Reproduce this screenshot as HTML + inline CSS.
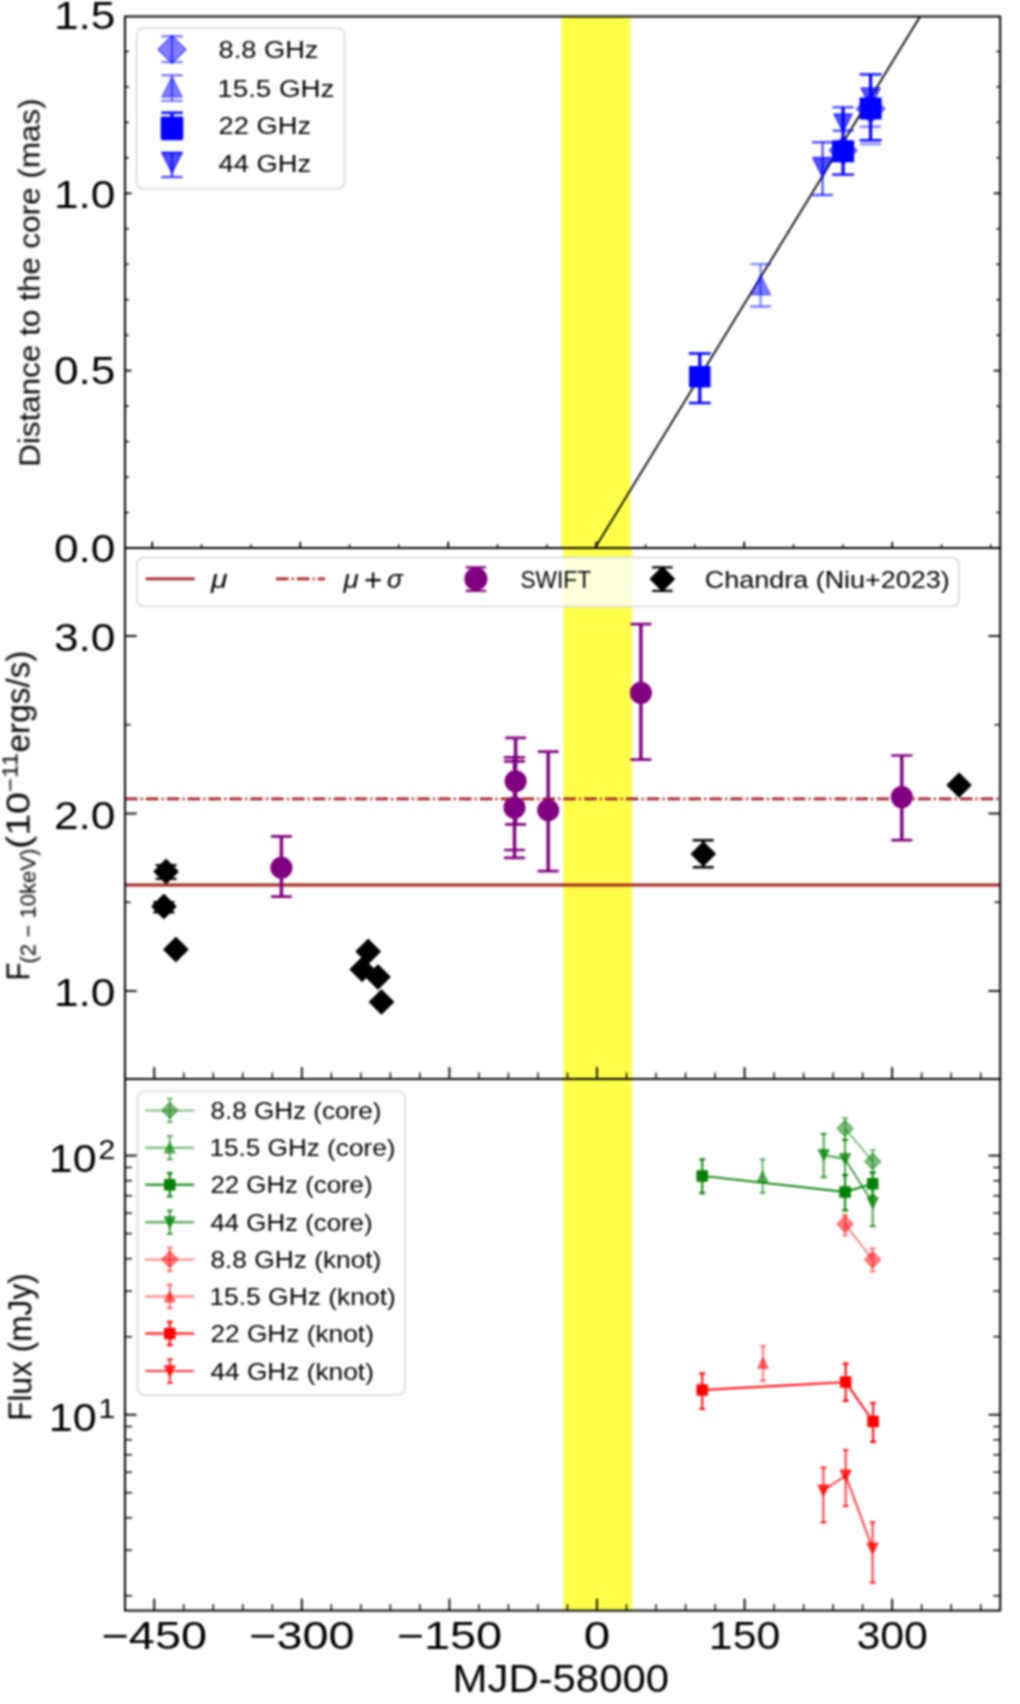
<!DOCTYPE html><html><head><meta charset="utf-8"><style>html,body{margin:0;padding:0;background:#fff;}svg{display:block;}</style></head><body>
<svg width="1020" height="1704" viewBox="0 0 1020 1704">
<defs><filter id="bl" x="0" y="0" width="1020" height="1704" filterUnits="userSpaceOnUse" color-interpolation-filters="sRGB"><feGaussianBlur stdDeviation="1.0"/></filter></defs>
<rect x="0" y="0" width="1020" height="1704" fill="#ffffff"/>
<g filter="url(#bl)">
<rect x="561.2" y="16.5" width="69.2" height="531.5" fill="#ffff4a" />
<line x1="595" y1="548" x2="920.1" y2="16.5" stroke="#000000" stroke-width="1.8" />
<line x1="760.6" y1="264.1" x2="760.6" y2="306.5" stroke="#0000ff" stroke-width="2.2" stroke-opacity="0.5"/>
<line x1="751.1" y1="264.1" x2="770.1" y2="264.1" stroke="#0000ff" stroke-width="2.4" stroke-linecap="round" stroke-opacity="0.5"/>
<line x1="751.1" y1="306.5" x2="770.1" y2="306.5" stroke="#0000ff" stroke-width="2.4" stroke-linecap="round" stroke-opacity="0.5"/>
<polygon points="760.6,275.25 770.35,294.75 750.85,294.75" fill="#0000ff" stroke="#0000ff" stroke-width="1.6" stroke-linejoin="round" fill-opacity="0.5" stroke-opacity="0.5"/>
<line x1="699.8" y1="353.5" x2="699.8" y2="403" stroke="#0000ff" stroke-width="3.2"/>
<line x1="689.8" y1="353.5" x2="709.8" y2="353.5" stroke="#0000ff" stroke-width="2.4" stroke-linecap="round"/>
<line x1="689.8" y1="403" x2="709.8" y2="403" stroke="#0000ff" stroke-width="2.4" stroke-linecap="round"/>
<rect x="689.8" y="366.8" width="20" height="20" fill="#0000ff" stroke="#0000ff" stroke-width="1.6" stroke-linejoin="round"/>
<line x1="822.6" y1="142.2" x2="822.6" y2="195" stroke="#0000ff" stroke-width="2.4" stroke-opacity="0.68"/>
<line x1="813.1" y1="142.2" x2="832.1" y2="142.2" stroke="#0000ff" stroke-width="2.4" stroke-linecap="round" stroke-opacity="0.68"/>
<line x1="813.1" y1="195" x2="832.1" y2="195" stroke="#0000ff" stroke-width="2.4" stroke-linecap="round" stroke-opacity="0.68"/>
<polygon points="812.85,157.55 832.35,157.55 822.6,177.05" fill="#0000ff" stroke="#0000ff" stroke-width="1.6" stroke-linejoin="round" fill-opacity="0.68" stroke-opacity="0.68"/>
<polygon points="843.1,136.5 857.1,150.5 843.1,164.5 829.1,150.5" fill="#0000ff" stroke="#0000ff" stroke-width="1.6" stroke-linejoin="round" fill-opacity="0.5" stroke-opacity="0.5"/>
<line x1="843.1" y1="107.3" x2="843.1" y2="130.8" stroke="#0000ff" stroke-width="2.4" stroke-opacity="0.68"/>
<line x1="833.6" y1="107.3" x2="852.6" y2="107.3" stroke="#0000ff" stroke-width="2.4" stroke-linecap="round" stroke-opacity="0.68"/>
<line x1="833.6" y1="130.8" x2="852.6" y2="130.8" stroke="#0000ff" stroke-width="2.4" stroke-linecap="round" stroke-opacity="0.68"/>
<polygon points="834.1,114 852.1,114 843.1,132" fill="#0000ff" stroke="#0000ff" stroke-width="1.6" stroke-linejoin="round" fill-opacity="0.68" stroke-opacity="0.68"/>
<line x1="843.1" y1="107.3" x2="843.1" y2="174.6" stroke="#0000ff" stroke-width="3.2"/>
<line x1="833.1" y1="174.6" x2="853.1" y2="174.6" stroke="#0000ff" stroke-width="2.4" stroke-linecap="round"/>
<rect x="832.85" y="140.95" width="20.5" height="20.5" fill="#0000ff" stroke="#0000ff" stroke-width="1.6" stroke-linejoin="round"/>
<polygon points="870.6,94.55 884.85,108.8 870.6,123.05 856.35,108.8" fill="#0000ff" stroke="#0000ff" stroke-width="1.6" stroke-linejoin="round" fill-opacity="0.5" stroke-opacity="0.5"/>
<line x1="861.1" y1="126.8" x2="880.1" y2="126.8" stroke="#0000ff" stroke-width="2.4" stroke-linecap="round" stroke-opacity="0.5"/>
<line x1="861.1" y1="144.1" x2="880.1" y2="144.1" stroke="#0000ff" stroke-width="2.4" stroke-linecap="round" stroke-opacity="0.5"/>
<polygon points="861.1,88 880.1,88 870.6,107" fill="#0000ff" stroke="#0000ff" stroke-width="1.6" stroke-linejoin="round" fill-opacity="0.68" stroke-opacity="0.68"/>
<line x1="870.6" y1="74.4" x2="870.6" y2="140.3" stroke="#0000ff" stroke-width="3.2"/>
<line x1="860.6" y1="74.4" x2="880.6" y2="74.4" stroke="#0000ff" stroke-width="2.4" stroke-linecap="round"/>
<line x1="860.6" y1="140.3" x2="880.6" y2="140.3" stroke="#0000ff" stroke-width="2.4" stroke-linecap="round"/>
<rect x="860.35" y="98.25" width="20.5" height="20.5" fill="#0000ff" stroke="#0000ff" stroke-width="1.6" stroke-linejoin="round"/>
<rect x="136.5" y="28.2" width="208.1" height="160.5" rx="7" ry="7" fill="#ffffff" fill-opacity="0.8" stroke="#d8d8d8" stroke-width="1.7"/>
<line x1="172" y1="36.2" x2="172" y2="62.1" stroke="#0000ff" stroke-width="2.2" stroke-opacity="0.5"/>
<line x1="162.25" y1="36.2" x2="181.75" y2="36.2" stroke="#0000ff" stroke-width="2.4" stroke-linecap="round" stroke-opacity="0.5"/>
<line x1="162.25" y1="62.1" x2="181.75" y2="62.1" stroke="#0000ff" stroke-width="2.4" stroke-linecap="round" stroke-opacity="0.5"/>
<polygon points="172,35.5 186,49.5 172,63.5 158,49.5" fill="#0000ff" stroke="#0000ff" stroke-width="1.6" stroke-linejoin="round" fill-opacity="0.5" stroke-opacity="0.5"/>
<line x1="172" y1="75.3" x2="172" y2="100.9" stroke="#0000ff" stroke-width="2.2" stroke-opacity="0.5"/>
<line x1="162.25" y1="75.3" x2="181.75" y2="75.3" stroke="#0000ff" stroke-width="2.4" stroke-linecap="round" stroke-opacity="0.5"/>
<line x1="162.25" y1="100.9" x2="181.75" y2="100.9" stroke="#0000ff" stroke-width="2.4" stroke-linecap="round" stroke-opacity="0.5"/>
<polygon points="172,77 182,97 162,97" fill="#0000ff" stroke="#0000ff" stroke-width="1.6" stroke-linejoin="round" fill-opacity="0.5" stroke-opacity="0.5"/>
<line x1="172" y1="112.7" x2="172" y2="139" stroke="#0000ff" stroke-width="3"/>
<line x1="162.25" y1="112.7" x2="181.75" y2="112.7" stroke="#0000ff" stroke-width="2.4" stroke-linecap="round"/>
<line x1="162.25" y1="139" x2="181.75" y2="139" stroke="#0000ff" stroke-width="2.4" stroke-linecap="round"/>
<rect x="161.5" y="117.3" width="21" height="21" fill="#0000ff" stroke="#0000ff" stroke-width="1.6" stroke-linejoin="round"/>
<line x1="172" y1="152.8" x2="172" y2="177" stroke="#0000ff" stroke-width="2.4" stroke-opacity="0.68"/>
<line x1="162.25" y1="152.8" x2="181.75" y2="152.8" stroke="#0000ff" stroke-width="2.4" stroke-linecap="round" stroke-opacity="0.68"/>
<line x1="162.25" y1="177" x2="181.75" y2="177" stroke="#0000ff" stroke-width="2.4" stroke-linecap="round" stroke-opacity="0.68"/>
<polygon points="162,153 182,153 172,173" fill="#0000ff" stroke="#0000ff" stroke-width="1.6" stroke-linejoin="round" fill-opacity="0.68" stroke-opacity="0.68"/>
<text x="218.5" y="57.7" font-size="24.5" text-anchor="start" fill="#000" font-family='"Liberation Sans", sans-serif' textLength="100" lengthAdjust="spacingAndGlyphs" >8.8 GHz</text>
<text x="217.3" y="96.6" font-size="24.5" text-anchor="start" fill="#000" font-family='"Liberation Sans", sans-serif' textLength="117.2" lengthAdjust="spacingAndGlyphs" >15.5 GHz</text>
<text x="218.5" y="134.3" font-size="24.5" text-anchor="start" fill="#000" font-family='"Liberation Sans", sans-serif' textLength="92.6" lengthAdjust="spacingAndGlyphs" >22 GHz</text>
<text x="218.5" y="172" font-size="24.5" text-anchor="start" fill="#000" font-family='"Liberation Sans", sans-serif' textLength="92.6" lengthAdjust="spacingAndGlyphs" >44 GHz</text>
<rect x="563.5" y="548" width="68.6" height="531" fill="#ffff4a" />
<line x1="125" y1="885" x2="1000.2" y2="885" stroke="#a31f1f" stroke-width="2.8" />
<line x1="125" y1="798.8" x2="1000.2" y2="798.8" stroke="#a31f1f" stroke-width="2.8" stroke-dasharray="12.6 3.15 1.97 3.15"/>
<line x1="281.4" y1="836.3" x2="281.4" y2="896.6" stroke="#800080" stroke-width="3.5"/>
<line x1="272" y1="836.3" x2="290.8" y2="836.3" stroke="#800080" stroke-width="2.7" stroke-linecap="round"/>
<line x1="272" y1="896.6" x2="290.8" y2="896.6" stroke="#800080" stroke-width="2.7" stroke-linecap="round"/>
<circle cx="281.4" cy="867.7" r="10.25" fill="#800080" stroke="#800080" stroke-width="1.6" stroke-linejoin="round"/>
<line x1="548.2" y1="751.7" x2="548.2" y2="871.2" stroke="#800080" stroke-width="3.5"/>
<line x1="538.8" y1="751.7" x2="557.6" y2="751.7" stroke="#800080" stroke-width="2.7" stroke-linecap="round"/>
<line x1="538.8" y1="871.2" x2="557.6" y2="871.2" stroke="#800080" stroke-width="2.7" stroke-linecap="round"/>
<circle cx="548.2" cy="810.3" r="10.25" fill="#800080" stroke="#800080" stroke-width="1.6" stroke-linejoin="round"/>
<line x1="514.5" y1="757.3" x2="514.5" y2="857.9" stroke="#800080" stroke-width="3.5"/>
<line x1="505.1" y1="757.3" x2="523.9" y2="757.3" stroke="#800080" stroke-width="2.7" stroke-linecap="round"/>
<line x1="505.1" y1="857.9" x2="523.9" y2="857.9" stroke="#800080" stroke-width="2.7" stroke-linecap="round"/>
<circle cx="514.5" cy="807.6" r="10.25" fill="#800080" stroke="#800080" stroke-width="1.6" stroke-linejoin="round"/>
<line x1="505.1" y1="761.4" x2="523.9" y2="761.4" stroke="#800080" stroke-width="2.7" stroke-linecap="round"/>
<line x1="505.1" y1="850" x2="523.9" y2="850" stroke="#800080" stroke-width="2.7" stroke-linecap="round"/>
<line x1="515.6" y1="737.9" x2="515.6" y2="824.4" stroke="#800080" stroke-width="3.5"/>
<line x1="506.2" y1="737.9" x2="525" y2="737.9" stroke="#800080" stroke-width="2.7" stroke-linecap="round"/>
<line x1="506.2" y1="824.4" x2="525" y2="824.4" stroke="#800080" stroke-width="2.7" stroke-linecap="round"/>
<circle cx="515.6" cy="781.2" r="10.25" fill="#800080" stroke="#800080" stroke-width="1.6" stroke-linejoin="round"/>
<line x1="640.9" y1="624.1" x2="640.9" y2="759.6" stroke="#800080" stroke-width="3.5"/>
<line x1="631.5" y1="624.1" x2="650.3" y2="624.1" stroke="#800080" stroke-width="2.7" stroke-linecap="round"/>
<line x1="631.5" y1="759.6" x2="650.3" y2="759.6" stroke="#800080" stroke-width="2.7" stroke-linecap="round"/>
<circle cx="640.9" cy="692.9" r="10.25" fill="#800080" stroke="#800080" stroke-width="1.6" stroke-linejoin="round"/>
<line x1="901.8" y1="755.5" x2="901.8" y2="840.2" stroke="#800080" stroke-width="3.5"/>
<line x1="892.4" y1="755.5" x2="911.2" y2="755.5" stroke="#800080" stroke-width="2.7" stroke-linecap="round"/>
<line x1="892.4" y1="840.2" x2="911.2" y2="840.2" stroke="#800080" stroke-width="2.7" stroke-linecap="round"/>
<circle cx="901.8" cy="797.1" r="10.25" fill="#800080" stroke="#800080" stroke-width="1.6" stroke-linejoin="round"/>
<line x1="166.1" y1="865.1" x2="166.1" y2="878.9" stroke="#000000" stroke-width="2.5"/>
<line x1="156.6" y1="865.1" x2="175.6" y2="865.1" stroke="#000000" stroke-width="2.4" stroke-linecap="round"/>
<line x1="156.6" y1="878.9" x2="175.6" y2="878.9" stroke="#000000" stroke-width="2.4" stroke-linecap="round"/>
<polygon points="166.1,859.5 178.1,871.5 166.1,883.5 154.1,871.5" fill="#000000" stroke="#000000" stroke-width="1.2" stroke-linejoin="round"/>
<line x1="163.9" y1="902.1" x2="163.9" y2="912.3" stroke="#000000" stroke-width="2.5"/>
<line x1="154.4" y1="902.1" x2="173.4" y2="902.1" stroke="#000000" stroke-width="2.4" stroke-linecap="round"/>
<line x1="154.4" y1="912.3" x2="173.4" y2="912.3" stroke="#000000" stroke-width="2.4" stroke-linecap="round"/>
<polygon points="163.9,894.5 175.9,906.5 163.9,918.5 151.9,906.5" fill="#000000" stroke="#000000" stroke-width="1.2" stroke-linejoin="round"/>
<polygon points="175.9,937.5 187.9,949.5 175.9,961.5 163.9,949.5" fill="#000000" stroke="#000000" stroke-width="1.2" stroke-linejoin="round"/>
<polygon points="368.2,939.5 380.2,951.5 368.2,963.5 356.2,951.5" fill="#000000" stroke="#000000" stroke-width="1.2" stroke-linejoin="round"/>
<polygon points="362.1,957.4 374.1,969.4 362.1,981.4 350.1,969.4" fill="#000000" stroke="#000000" stroke-width="1.2" stroke-linejoin="round"/>
<polygon points="378,965 390,977 378,989 366,977" fill="#000000" stroke="#000000" stroke-width="1.2" stroke-linejoin="round"/>
<polygon points="381.5,990 393.5,1002 381.5,1014 369.5,1002" fill="#000000" stroke="#000000" stroke-width="1.2" stroke-linejoin="round"/>
<line x1="703.3" y1="840.3" x2="703.3" y2="867.2" stroke="#000000" stroke-width="2.5"/>
<line x1="693.8" y1="840.3" x2="712.8" y2="840.3" stroke="#000000" stroke-width="2.4" stroke-linecap="round"/>
<line x1="693.8" y1="867.2" x2="712.8" y2="867.2" stroke="#000000" stroke-width="2.4" stroke-linecap="round"/>
<polygon points="703.3,841.9 715.3,853.9 703.3,865.9 691.3,853.9" fill="#000000" stroke="#000000" stroke-width="1.2" stroke-linejoin="round"/>
<polygon points="959.1,773.1 971.1,785.1 959.1,797.1 947.1,785.1" fill="#000000" stroke="#000000" stroke-width="1.2" stroke-linejoin="round"/>
<rect x="136.9" y="557.6" width="822" height="48.9" rx="7" ry="7" fill="#ffffff" fill-opacity="0.8" stroke="#d8d8d8" stroke-width="1.7"/>
<line x1="145.7" y1="578.9" x2="194.7" y2="578.9" stroke="#a31f1f" stroke-width="2.8" />
<line x1="276" y1="578.9" x2="325" y2="578.9" stroke="#a31f1f" stroke-width="2.8" stroke-dasharray="12.6 3.15 1.97 3.15"/>
<text x="211" y="588" font-size="26" text-anchor="start" fill="#000" font-family='"Liberation Sans", sans-serif' textLength="16.5" lengthAdjust="spacingAndGlyphs" font-style="italic">μ</text>
<text x="343.6" y="588" font-size="26" text-anchor="start" fill="#000" font-family='"Liberation Sans", sans-serif' textLength="15.2" lengthAdjust="spacingAndGlyphs" font-style="italic">μ</text>
<text x="364" y="590.5" font-size="32" text-anchor="start" fill="#000" font-family='"Liberation Sans", sans-serif' textLength="18.2" lengthAdjust="spacingAndGlyphs" >+</text>
<text x="387" y="588" font-size="26" text-anchor="start" fill="#000" font-family='"Liberation Sans", sans-serif' font-style="italic">σ</text>
<line x1="475.9" y1="567.4" x2="475.9" y2="590.9" stroke="#800080" stroke-width="3.2"/>
<line x1="466.65" y1="567.4" x2="485.15" y2="567.4" stroke="#800080" stroke-width="2.4" stroke-linecap="round"/>
<line x1="466.65" y1="590.9" x2="485.15" y2="590.9" stroke="#800080" stroke-width="2.4" stroke-linecap="round"/>
<circle cx="475.9" cy="578.9" r="10.75" fill="#800080" stroke="#800080" stroke-width="1.6" stroke-linejoin="round"/>
<text x="520.5" y="588" font-size="24.5" text-anchor="start" fill="#000" font-family='"Liberation Sans", sans-serif' textLength="70.5" lengthAdjust="spacingAndGlyphs" >SWIFT</text>
<line x1="662.4" y1="567.4" x2="662.4" y2="590.9" stroke="#000000" stroke-width="2.5"/>
<line x1="653.15" y1="567.4" x2="671.65" y2="567.4" stroke="#000000" stroke-width="2.4" stroke-linecap="round"/>
<line x1="653.15" y1="590.9" x2="671.65" y2="590.9" stroke="#000000" stroke-width="2.4" stroke-linecap="round"/>
<polygon points="662.4,567 674.4,579 662.4,591 650.4,579" fill="#000000" stroke="#000000" stroke-width="1.2" stroke-linejoin="round"/>
<text x="704.8" y="588" font-size="24.5" text-anchor="start" fill="#000" font-family='"Liberation Sans", sans-serif' textLength="245" lengthAdjust="spacingAndGlyphs" >Chandra (Niu+2023)</text>
<rect x="563.5" y="1079" width="68.6" height="531.6" fill="#ffff4a" />
<polyline points="845.1,1128.4 872.7,1161.4" fill="none" stroke="#008000" stroke-width="1.9" stroke-linejoin="round" stroke-opacity="0.5"/>
<line x1="845.1" y1="1118.2" x2="845.1" y2="1139.8" stroke="#008000" stroke-width="2" stroke-opacity="0.5"/>
<line x1="843" y1="1118.2" x2="847.2" y2="1118.2" stroke="#008000" stroke-width="2.2" stroke-linecap="round" stroke-opacity="0.5"/>
<line x1="843" y1="1139.8" x2="847.2" y2="1139.8" stroke="#008000" stroke-width="2.2" stroke-linecap="round" stroke-opacity="0.5"/>
<polygon points="845.1,1120.3 853.2,1128.4 845.1,1136.5 837,1128.4" fill="#008000" stroke="#008000" stroke-width="1.3" stroke-linejoin="round" fill-opacity="0.5" stroke-opacity="0.5"/>
<line x1="872.7" y1="1150" x2="872.7" y2="1172.7" stroke="#008000" stroke-width="2" stroke-opacity="0.5"/>
<line x1="870.6" y1="1150" x2="874.8" y2="1150" stroke="#008000" stroke-width="2.2" stroke-linecap="round" stroke-opacity="0.5"/>
<line x1="870.6" y1="1172.7" x2="874.8" y2="1172.7" stroke="#008000" stroke-width="2.2" stroke-linecap="round" stroke-opacity="0.5"/>
<polygon points="872.7,1153.3 880.8,1161.4 872.7,1169.5 864.6,1161.4" fill="#008000" stroke="#008000" stroke-width="1.3" stroke-linejoin="round" fill-opacity="0.5" stroke-opacity="0.5"/>
<line x1="762.6" y1="1159.3" x2="762.6" y2="1192.8" stroke="#008000" stroke-width="2" stroke-opacity="0.6"/>
<line x1="760.5" y1="1159.3" x2="764.7" y2="1159.3" stroke="#008000" stroke-width="2.2" stroke-linecap="round" stroke-opacity="0.6"/>
<line x1="760.5" y1="1192.8" x2="764.7" y2="1192.8" stroke="#008000" stroke-width="2.2" stroke-linecap="round" stroke-opacity="0.6"/>
<polygon points="762.6,1171.4 767.8,1181.8 757.4,1181.8" fill="#008000" stroke="#008000" stroke-width="1.3" stroke-linejoin="round" fill-opacity="0.6" stroke-opacity="0.6"/>
<polyline points="823.7,1155 845.1,1159 872.7,1203" fill="none" stroke="#008000" stroke-width="1.9" stroke-linejoin="round" stroke-opacity="0.75"/>
<line x1="823.7" y1="1133.9" x2="823.7" y2="1177.1" stroke="#008000" stroke-width="2" stroke-opacity="0.75"/>
<line x1="821.6" y1="1133.9" x2="825.8" y2="1133.9" stroke="#008000" stroke-width="2.2" stroke-linecap="round" stroke-opacity="0.75"/>
<line x1="821.6" y1="1177.1" x2="825.8" y2="1177.1" stroke="#008000" stroke-width="2.2" stroke-linecap="round" stroke-opacity="0.75"/>
<polygon points="818.4,1149.7 829,1149.7 823.7,1160.3" fill="#008000" stroke="#008000" stroke-width="1.3" stroke-linejoin="round" fill-opacity="0.75" stroke-opacity="0.75"/>
<line x1="845.1" y1="1139.8" x2="845.1" y2="1175.1" stroke="#008000" stroke-width="2" stroke-opacity="0.75"/>
<line x1="843" y1="1139.8" x2="847.2" y2="1139.8" stroke="#008000" stroke-width="2.2" stroke-linecap="round" stroke-opacity="0.75"/>
<line x1="843" y1="1175.1" x2="847.2" y2="1175.1" stroke="#008000" stroke-width="2.2" stroke-linecap="round" stroke-opacity="0.75"/>
<polygon points="839.8,1153.7 850.4,1153.7 845.1,1164.3" fill="#008000" stroke="#008000" stroke-width="1.3" stroke-linejoin="round" fill-opacity="0.75" stroke-opacity="0.75"/>
<line x1="872.7" y1="1180" x2="872.7" y2="1226.1" stroke="#008000" stroke-width="2" stroke-opacity="0.75"/>
<line x1="870.6" y1="1180" x2="874.8" y2="1180" stroke="#008000" stroke-width="2.2" stroke-linecap="round" stroke-opacity="0.75"/>
<line x1="870.6" y1="1226.1" x2="874.8" y2="1226.1" stroke="#008000" stroke-width="2.2" stroke-linecap="round" stroke-opacity="0.75"/>
<polygon points="867.4,1197.7 878,1197.7 872.7,1208.3" fill="#008000" stroke="#008000" stroke-width="1.3" stroke-linejoin="round" fill-opacity="0.75" stroke-opacity="0.75"/>
<polyline points="702.2,1175.9 845.1,1192 872.7,1183.7" fill="none" stroke="#008000" stroke-width="1.9" stroke-linejoin="round"/>
<line x1="702.2" y1="1159.3" x2="702.2" y2="1193.2" stroke="#008000" stroke-width="2"/>
<line x1="700.1" y1="1159.3" x2="704.3" y2="1159.3" stroke="#008000" stroke-width="2.2" stroke-linecap="round"/>
<line x1="700.1" y1="1193.2" x2="704.3" y2="1193.2" stroke="#008000" stroke-width="2.2" stroke-linecap="round"/>
<rect x="697.1" y="1170.8" width="10.2" height="10.2" fill="#008000" stroke="#008000" stroke-width="1.3" stroke-linejoin="round"/>
<line x1="845.1" y1="1175.1" x2="845.1" y2="1210.4" stroke="#008000" stroke-width="2"/>
<line x1="843" y1="1175.1" x2="847.2" y2="1175.1" stroke="#008000" stroke-width="2.2" stroke-linecap="round"/>
<line x1="843" y1="1210.4" x2="847.2" y2="1210.4" stroke="#008000" stroke-width="2.2" stroke-linecap="round"/>
<rect x="840" y="1186.9" width="10.2" height="10.2" fill="#008000" stroke="#008000" stroke-width="1.3" stroke-linejoin="round"/>
<line x1="872.7" y1="1172.7" x2="872.7" y2="1196" stroke="#008000" stroke-width="2"/>
<line x1="870.6" y1="1172.7" x2="874.8" y2="1172.7" stroke="#008000" stroke-width="2.2" stroke-linecap="round"/>
<line x1="870.6" y1="1196" x2="874.8" y2="1196" stroke="#008000" stroke-width="2.2" stroke-linecap="round"/>
<rect x="867.6" y="1178.6" width="10.2" height="10.2" fill="#008000" stroke="#008000" stroke-width="1.3" stroke-linejoin="round"/>
<polyline points="845.1,1224.1 872.6,1259.6" fill="none" stroke="#ff0000" stroke-width="1.9" stroke-linejoin="round" stroke-opacity="0.5"/>
<line x1="845.1" y1="1215.1" x2="845.1" y2="1235.5" stroke="#ff0000" stroke-width="2" stroke-opacity="0.5"/>
<line x1="843" y1="1215.1" x2="847.2" y2="1215.1" stroke="#ff0000" stroke-width="2.2" stroke-linecap="round" stroke-opacity="0.5"/>
<line x1="843" y1="1235.5" x2="847.2" y2="1235.5" stroke="#ff0000" stroke-width="2.2" stroke-linecap="round" stroke-opacity="0.5"/>
<polygon points="845.1,1216 853.2,1224.1 845.1,1232.2 837,1224.1" fill="#ff0000" stroke="#ff0000" stroke-width="1.3" stroke-linejoin="round" fill-opacity="0.5" stroke-opacity="0.5"/>
<line x1="872.6" y1="1248.4" x2="872.6" y2="1271.5" stroke="#ff0000" stroke-width="2" stroke-opacity="0.5"/>
<line x1="870.5" y1="1248.4" x2="874.7" y2="1248.4" stroke="#ff0000" stroke-width="2.2" stroke-linecap="round" stroke-opacity="0.5"/>
<line x1="870.5" y1="1271.5" x2="874.7" y2="1271.5" stroke="#ff0000" stroke-width="2.2" stroke-linecap="round" stroke-opacity="0.5"/>
<polygon points="872.6,1251.5 880.7,1259.6 872.6,1267.7 864.5,1259.6" fill="#ff0000" stroke="#ff0000" stroke-width="1.3" stroke-linejoin="round" fill-opacity="0.5" stroke-opacity="0.5"/>
<line x1="763" y1="1346" x2="763" y2="1381" stroke="#ff0000" stroke-width="2" stroke-opacity="0.55"/>
<line x1="760.9" y1="1346" x2="765.1" y2="1346" stroke="#ff0000" stroke-width="2.2" stroke-linecap="round" stroke-opacity="0.55"/>
<line x1="760.9" y1="1381" x2="765.1" y2="1381" stroke="#ff0000" stroke-width="2.2" stroke-linecap="round" stroke-opacity="0.55"/>
<polygon points="763,1357.8 768.2,1368.2 757.8,1368.2" fill="#ff0000" stroke="#ff0000" stroke-width="1.3" stroke-linejoin="round" fill-opacity="0.55" stroke-opacity="0.55"/>
<polyline points="702.2,1390 845.7,1382.1 873.1,1421.5" fill="none" stroke="#ff0000" stroke-width="1.9" stroke-linejoin="round"/>
<line x1="702.2" y1="1373.4" x2="702.2" y2="1409" stroke="#ff0000" stroke-width="2"/>
<line x1="700.1" y1="1373.4" x2="704.3" y2="1373.4" stroke="#ff0000" stroke-width="2.2" stroke-linecap="round"/>
<line x1="700.1" y1="1409" x2="704.3" y2="1409" stroke="#ff0000" stroke-width="2.2" stroke-linecap="round"/>
<rect x="697.1" y="1384.9" width="10.2" height="10.2" fill="#ff0000" stroke="#ff0000" stroke-width="1.3" stroke-linejoin="round"/>
<line x1="845.7" y1="1363.7" x2="845.7" y2="1400.8" stroke="#ff0000" stroke-width="2"/>
<line x1="843.6" y1="1363.7" x2="847.8" y2="1363.7" stroke="#ff0000" stroke-width="2.2" stroke-linecap="round"/>
<line x1="843.6" y1="1400.8" x2="847.8" y2="1400.8" stroke="#ff0000" stroke-width="2.2" stroke-linecap="round"/>
<rect x="840.6" y="1377" width="10.2" height="10.2" fill="#ff0000" stroke="#ff0000" stroke-width="1.3" stroke-linejoin="round"/>
<line x1="873.1" y1="1403" x2="873.1" y2="1441.8" stroke="#ff0000" stroke-width="2"/>
<line x1="871" y1="1403" x2="875.2" y2="1403" stroke="#ff0000" stroke-width="2.2" stroke-linecap="round"/>
<line x1="871" y1="1441.8" x2="875.2" y2="1441.8" stroke="#ff0000" stroke-width="2.2" stroke-linecap="round"/>
<rect x="868" y="1416.4" width="10.2" height="10.2" fill="#ff0000" stroke="#ff0000" stroke-width="1.3" stroke-linejoin="round"/>
<polyline points="823.4,1490.5 845.7,1475.5 872.6,1548.5" fill="none" stroke="#ff0000" stroke-width="1.9" stroke-linejoin="round" stroke-opacity="0.8"/>
<line x1="823.4" y1="1467.7" x2="823.4" y2="1522.3" stroke="#ff0000" stroke-width="2" stroke-opacity="0.8"/>
<line x1="821.3" y1="1467.7" x2="825.5" y2="1467.7" stroke="#ff0000" stroke-width="2.2" stroke-linecap="round" stroke-opacity="0.8"/>
<line x1="821.3" y1="1522.3" x2="825.5" y2="1522.3" stroke="#ff0000" stroke-width="2.2" stroke-linecap="round" stroke-opacity="0.8"/>
<polygon points="818.1,1485.2 828.7,1485.2 823.4,1495.8" fill="#ff0000" stroke="#ff0000" stroke-width="1.3" stroke-linejoin="round" fill-opacity="0.8" stroke-opacity="0.8"/>
<line x1="845.7" y1="1450" x2="845.7" y2="1506.1" stroke="#ff0000" stroke-width="2" stroke-opacity="0.8"/>
<line x1="843.6" y1="1450" x2="847.8" y2="1450" stroke="#ff0000" stroke-width="2.2" stroke-linecap="round" stroke-opacity="0.8"/>
<line x1="843.6" y1="1506.1" x2="847.8" y2="1506.1" stroke="#ff0000" stroke-width="2.2" stroke-linecap="round" stroke-opacity="0.8"/>
<polygon points="840.4,1470.2 851,1470.2 845.7,1480.8" fill="#ff0000" stroke="#ff0000" stroke-width="1.3" stroke-linejoin="round" fill-opacity="0.8" stroke-opacity="0.8"/>
<line x1="872.6" y1="1522.3" x2="872.6" y2="1582.7" stroke="#ff0000" stroke-width="2" stroke-opacity="0.8"/>
<line x1="870.5" y1="1522.3" x2="874.7" y2="1522.3" stroke="#ff0000" stroke-width="2.2" stroke-linecap="round" stroke-opacity="0.8"/>
<line x1="870.5" y1="1582.7" x2="874.7" y2="1582.7" stroke="#ff0000" stroke-width="2.2" stroke-linecap="round" stroke-opacity="0.8"/>
<polygon points="867.3,1543.2 877.9,1543.2 872.6,1553.8" fill="#ff0000" stroke="#ff0000" stroke-width="1.3" stroke-linejoin="round" fill-opacity="0.8" stroke-opacity="0.8"/>
<rect x="137.5" y="1091.3" width="267.5" height="303.7" rx="7" ry="7" fill="#ffffff" fill-opacity="0.8" stroke="#d8d8d8" stroke-width="1.7"/>
<line x1="145.3" y1="1110.4" x2="194.2" y2="1110.4" stroke="#008000" stroke-width="2.0" stroke-opacity="0.5"/>
<line x1="169.8" y1="1098.7" x2="169.8" y2="1122.1" stroke="#008000" stroke-width="2" stroke-opacity="0.5"/>
<line x1="167.7" y1="1098.7" x2="171.9" y2="1098.7" stroke="#008000" stroke-width="2.2" stroke-linecap="round" stroke-opacity="0.5"/>
<line x1="167.7" y1="1122.1" x2="171.9" y2="1122.1" stroke="#008000" stroke-width="2.2" stroke-linecap="round" stroke-opacity="0.5"/>
<polygon points="169.8,1102.3 177.9,1110.4 169.8,1118.5 161.7,1110.4" fill="#008000" stroke="#008000" stroke-width="1.3" stroke-linejoin="round" fill-opacity="0.5" stroke-opacity="0.5"/>
<text x="210.4" y="1119" font-size="24.5" text-anchor="start" fill="#000" font-family='"Liberation Sans", sans-serif' textLength="171" lengthAdjust="spacingAndGlyphs" >8.8 GHz (core)</text>
<line x1="145.3" y1="1147.7" x2="194.2" y2="1147.7" stroke="#008000" stroke-width="2.0" stroke-opacity="0.6"/>
<line x1="169.8" y1="1136" x2="169.8" y2="1159.4" stroke="#008000" stroke-width="2" stroke-opacity="0.6"/>
<line x1="167.7" y1="1136" x2="171.9" y2="1136" stroke="#008000" stroke-width="2.2" stroke-linecap="round" stroke-opacity="0.6"/>
<line x1="167.7" y1="1159.4" x2="171.9" y2="1159.4" stroke="#008000" stroke-width="2.2" stroke-linecap="round" stroke-opacity="0.6"/>
<polygon points="169.8,1142.5 175,1152.9 164.6,1152.9" fill="#008000" stroke="#008000" stroke-width="1.3" stroke-linejoin="round" fill-opacity="0.6" stroke-opacity="0.6"/>
<text x="209.4" y="1156.3" font-size="24.5" text-anchor="start" fill="#000" font-family='"Liberation Sans", sans-serif' textLength="186" lengthAdjust="spacingAndGlyphs" >15.5 GHz (core)</text>
<line x1="145.3" y1="1184.8" x2="194.2" y2="1184.8" stroke="#008000" stroke-width="2.0"/>
<line x1="169.8" y1="1173.1" x2="169.8" y2="1196.5" stroke="#008000" stroke-width="2"/>
<line x1="167.7" y1="1173.1" x2="171.9" y2="1173.1" stroke="#008000" stroke-width="2.2" stroke-linecap="round"/>
<line x1="167.7" y1="1196.5" x2="171.9" y2="1196.5" stroke="#008000" stroke-width="2.2" stroke-linecap="round"/>
<rect x="164.7" y="1179.7" width="10.2" height="10.2" fill="#008000" stroke="#008000" stroke-width="1.3" stroke-linejoin="round"/>
<text x="210.4" y="1193.4" font-size="24.5" text-anchor="start" fill="#000" font-family='"Liberation Sans", sans-serif' textLength="162.2" lengthAdjust="spacingAndGlyphs" >22 GHz (core)</text>
<line x1="145.3" y1="1222.3" x2="194.2" y2="1222.3" stroke="#008000" stroke-width="2.0" stroke-opacity="0.75"/>
<line x1="169.8" y1="1210.6" x2="169.8" y2="1234" stroke="#008000" stroke-width="2" stroke-opacity="0.75"/>
<line x1="167.7" y1="1210.6" x2="171.9" y2="1210.6" stroke="#008000" stroke-width="2.2" stroke-linecap="round" stroke-opacity="0.75"/>
<line x1="167.7" y1="1234" x2="171.9" y2="1234" stroke="#008000" stroke-width="2.2" stroke-linecap="round" stroke-opacity="0.75"/>
<polygon points="164.5,1217 175.1,1217 169.8,1227.6" fill="#008000" stroke="#008000" stroke-width="1.3" stroke-linejoin="round" fill-opacity="0.75" stroke-opacity="0.75"/>
<text x="210.4" y="1230.9" font-size="24.5" text-anchor="start" fill="#000" font-family='"Liberation Sans", sans-serif' textLength="162.2" lengthAdjust="spacingAndGlyphs" >44 GHz (core)</text>
<line x1="145.3" y1="1259.4" x2="194.2" y2="1259.4" stroke="#ff0000" stroke-width="2.0" stroke-opacity="0.5"/>
<line x1="169.8" y1="1247.7" x2="169.8" y2="1271.1" stroke="#ff0000" stroke-width="2" stroke-opacity="0.5"/>
<line x1="167.7" y1="1247.7" x2="171.9" y2="1247.7" stroke="#ff0000" stroke-width="2.2" stroke-linecap="round" stroke-opacity="0.5"/>
<line x1="167.7" y1="1271.1" x2="171.9" y2="1271.1" stroke="#ff0000" stroke-width="2.2" stroke-linecap="round" stroke-opacity="0.5"/>
<polygon points="169.8,1251.3 177.9,1259.4 169.8,1267.5 161.7,1259.4" fill="#ff0000" stroke="#ff0000" stroke-width="1.3" stroke-linejoin="round" fill-opacity="0.5" stroke-opacity="0.5"/>
<text x="210.4" y="1268" font-size="24.5" text-anchor="start" fill="#000" font-family='"Liberation Sans", sans-serif' textLength="171" lengthAdjust="spacingAndGlyphs" >8.8 GHz (knot)</text>
<line x1="145.3" y1="1296.5" x2="194.2" y2="1296.5" stroke="#ff0000" stroke-width="2.0" stroke-opacity="0.55"/>
<line x1="169.8" y1="1284.8" x2="169.8" y2="1308.2" stroke="#ff0000" stroke-width="2" stroke-opacity="0.55"/>
<line x1="167.7" y1="1284.8" x2="171.9" y2="1284.8" stroke="#ff0000" stroke-width="2.2" stroke-linecap="round" stroke-opacity="0.55"/>
<line x1="167.7" y1="1308.2" x2="171.9" y2="1308.2" stroke="#ff0000" stroke-width="2.2" stroke-linecap="round" stroke-opacity="0.55"/>
<polygon points="169.8,1291.3 175,1301.7 164.6,1301.7" fill="#ff0000" stroke="#ff0000" stroke-width="1.3" stroke-linejoin="round" fill-opacity="0.55" stroke-opacity="0.55"/>
<text x="209.4" y="1305.1" font-size="24.5" text-anchor="start" fill="#000" font-family='"Liberation Sans", sans-serif' textLength="186.4" lengthAdjust="spacingAndGlyphs" >15.5 GHz (knot)</text>
<line x1="145.3" y1="1333.5" x2="194.2" y2="1333.5" stroke="#ff0000" stroke-width="2.0"/>
<line x1="169.8" y1="1321.8" x2="169.8" y2="1345.2" stroke="#ff0000" stroke-width="2"/>
<line x1="167.7" y1="1321.8" x2="171.9" y2="1321.8" stroke="#ff0000" stroke-width="2.2" stroke-linecap="round"/>
<line x1="167.7" y1="1345.2" x2="171.9" y2="1345.2" stroke="#ff0000" stroke-width="2.2" stroke-linecap="round"/>
<rect x="164.7" y="1328.4" width="10.2" height="10.2" fill="#ff0000" stroke="#ff0000" stroke-width="1.3" stroke-linejoin="round"/>
<text x="210.4" y="1342.1" font-size="24.5" text-anchor="start" fill="#000" font-family='"Liberation Sans", sans-serif' textLength="163.5" lengthAdjust="spacingAndGlyphs" >22 GHz (knot)</text>
<line x1="145.3" y1="1371.1" x2="194.2" y2="1371.1" stroke="#ff0000" stroke-width="2.0" stroke-opacity="0.8"/>
<line x1="169.8" y1="1359.4" x2="169.8" y2="1382.8" stroke="#ff0000" stroke-width="2" stroke-opacity="0.8"/>
<line x1="167.7" y1="1359.4" x2="171.9" y2="1359.4" stroke="#ff0000" stroke-width="2.2" stroke-linecap="round" stroke-opacity="0.8"/>
<line x1="167.7" y1="1382.8" x2="171.9" y2="1382.8" stroke="#ff0000" stroke-width="2.2" stroke-linecap="round" stroke-opacity="0.8"/>
<polygon points="164.5,1365.8 175.1,1365.8 169.8,1376.4" fill="#ff0000" stroke="#ff0000" stroke-width="1.3" stroke-linejoin="round" fill-opacity="0.8" stroke-opacity="0.8"/>
<text x="210.4" y="1379.7" font-size="24.5" text-anchor="start" fill="#000" font-family='"Liberation Sans", sans-serif' textLength="163.5" lengthAdjust="spacingAndGlyphs" >44 GHz (knot)</text>
<line x1="152.2" y1="548" x2="152.2" y2="541.7" stroke="#000000" stroke-width="1.8" />
<line x1="300.2" y1="548" x2="300.2" y2="541.7" stroke="#000000" stroke-width="1.8" />
<line x1="448.2" y1="548" x2="448.2" y2="541.7" stroke="#000000" stroke-width="1.8" />
<line x1="596.2" y1="548" x2="596.2" y2="541.7" stroke="#000000" stroke-width="1.8" />
<line x1="744.2" y1="548" x2="744.2" y2="541.7" stroke="#000000" stroke-width="1.8" />
<line x1="892.2" y1="548" x2="892.2" y2="541.7" stroke="#000000" stroke-width="1.8" />
<line x1="201.53" y1="548" x2="201.53" y2="544.2" stroke="#000000" stroke-width="1.4" />
<line x1="250.87" y1="548" x2="250.87" y2="544.2" stroke="#000000" stroke-width="1.4" />
<line x1="349.53" y1="548" x2="349.53" y2="544.2" stroke="#000000" stroke-width="1.4" />
<line x1="398.87" y1="548" x2="398.87" y2="544.2" stroke="#000000" stroke-width="1.4" />
<line x1="497.53" y1="548" x2="497.53" y2="544.2" stroke="#000000" stroke-width="1.4" />
<line x1="546.87" y1="548" x2="546.87" y2="544.2" stroke="#000000" stroke-width="1.4" />
<line x1="645.53" y1="548" x2="645.53" y2="544.2" stroke="#000000" stroke-width="1.4" />
<line x1="694.87" y1="548" x2="694.87" y2="544.2" stroke="#000000" stroke-width="1.4" />
<line x1="793.53" y1="548" x2="793.53" y2="544.2" stroke="#000000" stroke-width="1.4" />
<line x1="842.87" y1="548" x2="842.87" y2="544.2" stroke="#000000" stroke-width="1.4" />
<line x1="941.53" y1="548" x2="941.53" y2="544.2" stroke="#000000" stroke-width="1.4" />
<line x1="990.87" y1="548" x2="990.87" y2="544.2" stroke="#000000" stroke-width="1.4" />
<line x1="125" y1="370.66" x2="131.5" y2="370.66" stroke="#000000" stroke-width="1.8" />
<line x1="1000.2" y1="370.66" x2="993.7" y2="370.66" stroke="#000000" stroke-width="1.8" />
<line x1="125" y1="193.33" x2="131.5" y2="193.33" stroke="#000000" stroke-width="1.8" />
<line x1="1000.2" y1="193.33" x2="993.7" y2="193.33" stroke="#000000" stroke-width="1.8" />
<line x1="125" y1="512.53" x2="129" y2="512.53" stroke="#000000" stroke-width="1.4" />
<line x1="1000.2" y1="512.53" x2="996.2" y2="512.53" stroke="#000000" stroke-width="1.4" />
<line x1="125" y1="477.07" x2="129" y2="477.07" stroke="#000000" stroke-width="1.4" />
<line x1="1000.2" y1="477.07" x2="996.2" y2="477.07" stroke="#000000" stroke-width="1.4" />
<line x1="125" y1="441.6" x2="129" y2="441.6" stroke="#000000" stroke-width="1.4" />
<line x1="1000.2" y1="441.6" x2="996.2" y2="441.6" stroke="#000000" stroke-width="1.4" />
<line x1="125" y1="406.13" x2="129" y2="406.13" stroke="#000000" stroke-width="1.4" />
<line x1="1000.2" y1="406.13" x2="996.2" y2="406.13" stroke="#000000" stroke-width="1.4" />
<line x1="125" y1="335.2" x2="129" y2="335.2" stroke="#000000" stroke-width="1.4" />
<line x1="1000.2" y1="335.2" x2="996.2" y2="335.2" stroke="#000000" stroke-width="1.4" />
<line x1="125" y1="299.73" x2="129" y2="299.73" stroke="#000000" stroke-width="1.4" />
<line x1="1000.2" y1="299.73" x2="996.2" y2="299.73" stroke="#000000" stroke-width="1.4" />
<line x1="125" y1="264.26" x2="129" y2="264.26" stroke="#000000" stroke-width="1.4" />
<line x1="1000.2" y1="264.26" x2="996.2" y2="264.26" stroke="#000000" stroke-width="1.4" />
<line x1="125" y1="228.8" x2="129" y2="228.8" stroke="#000000" stroke-width="1.4" />
<line x1="1000.2" y1="228.8" x2="996.2" y2="228.8" stroke="#000000" stroke-width="1.4" />
<line x1="125" y1="157.86" x2="129" y2="157.86" stroke="#000000" stroke-width="1.4" />
<line x1="1000.2" y1="157.86" x2="996.2" y2="157.86" stroke="#000000" stroke-width="1.4" />
<line x1="125" y1="122.4" x2="129" y2="122.4" stroke="#000000" stroke-width="1.4" />
<line x1="1000.2" y1="122.4" x2="996.2" y2="122.4" stroke="#000000" stroke-width="1.4" />
<line x1="125" y1="86.93" x2="129" y2="86.93" stroke="#000000" stroke-width="1.4" />
<line x1="1000.2" y1="86.93" x2="996.2" y2="86.93" stroke="#000000" stroke-width="1.4" />
<line x1="125" y1="51.46" x2="129" y2="51.46" stroke="#000000" stroke-width="1.4" />
<line x1="1000.2" y1="51.46" x2="996.2" y2="51.46" stroke="#000000" stroke-width="1.4" />
<rect x="125" y="16.5" width="875.2" height="531.5" fill="none" stroke="#000000" stroke-width="2"/>
<line x1="154.26" y1="1079" x2="154.26" y2="1067" stroke="#000000" stroke-width="1.8" />
<line x1="301.84" y1="1079" x2="301.84" y2="1067" stroke="#000000" stroke-width="1.8" />
<line x1="449.42" y1="1079" x2="449.42" y2="1067" stroke="#000000" stroke-width="1.8" />
<line x1="597" y1="1079" x2="597" y2="1067" stroke="#000000" stroke-width="1.8" />
<line x1="744.58" y1="1079" x2="744.58" y2="1067" stroke="#000000" stroke-width="1.8" />
<line x1="892.16" y1="1079" x2="892.16" y2="1067" stroke="#000000" stroke-width="1.8" />
<line x1="183.77" y1="1079" x2="183.77" y2="1072.5" stroke="#000000" stroke-width="1.4" />
<line x1="213.29" y1="1079" x2="213.29" y2="1072.5" stroke="#000000" stroke-width="1.4" />
<line x1="242.81" y1="1079" x2="242.81" y2="1072.5" stroke="#000000" stroke-width="1.4" />
<line x1="272.32" y1="1079" x2="272.32" y2="1072.5" stroke="#000000" stroke-width="1.4" />
<line x1="331.36" y1="1079" x2="331.36" y2="1072.5" stroke="#000000" stroke-width="1.4" />
<line x1="360.87" y1="1079" x2="360.87" y2="1072.5" stroke="#000000" stroke-width="1.4" />
<line x1="390.39" y1="1079" x2="390.39" y2="1072.5" stroke="#000000" stroke-width="1.4" />
<line x1="419.9" y1="1079" x2="419.9" y2="1072.5" stroke="#000000" stroke-width="1.4" />
<line x1="478.94" y1="1079" x2="478.94" y2="1072.5" stroke="#000000" stroke-width="1.4" />
<line x1="508.45" y1="1079" x2="508.45" y2="1072.5" stroke="#000000" stroke-width="1.4" />
<line x1="537.97" y1="1079" x2="537.97" y2="1072.5" stroke="#000000" stroke-width="1.4" />
<line x1="567.48" y1="1079" x2="567.48" y2="1072.5" stroke="#000000" stroke-width="1.4" />
<line x1="626.52" y1="1079" x2="626.52" y2="1072.5" stroke="#000000" stroke-width="1.4" />
<line x1="656.03" y1="1079" x2="656.03" y2="1072.5" stroke="#000000" stroke-width="1.4" />
<line x1="685.55" y1="1079" x2="685.55" y2="1072.5" stroke="#000000" stroke-width="1.4" />
<line x1="715.06" y1="1079" x2="715.06" y2="1072.5" stroke="#000000" stroke-width="1.4" />
<line x1="774.1" y1="1079" x2="774.1" y2="1072.5" stroke="#000000" stroke-width="1.4" />
<line x1="803.61" y1="1079" x2="803.61" y2="1072.5" stroke="#000000" stroke-width="1.4" />
<line x1="833.13" y1="1079" x2="833.13" y2="1072.5" stroke="#000000" stroke-width="1.4" />
<line x1="862.64" y1="1079" x2="862.64" y2="1072.5" stroke="#000000" stroke-width="1.4" />
<line x1="921.68" y1="1079" x2="921.68" y2="1072.5" stroke="#000000" stroke-width="1.4" />
<line x1="951.19" y1="1079" x2="951.19" y2="1072.5" stroke="#000000" stroke-width="1.4" />
<line x1="980.71" y1="1079" x2="980.71" y2="1072.5" stroke="#000000" stroke-width="1.4" />
<line x1="125" y1="991" x2="136.8" y2="991" stroke="#000000" stroke-width="1.8" />
<line x1="1000.2" y1="991" x2="988.4" y2="991" stroke="#000000" stroke-width="1.8" />
<line x1="125" y1="813.5" x2="136.8" y2="813.5" stroke="#000000" stroke-width="1.8" />
<line x1="1000.2" y1="813.5" x2="988.4" y2="813.5" stroke="#000000" stroke-width="1.8" />
<line x1="125" y1="636" x2="136.8" y2="636" stroke="#000000" stroke-width="1.8" />
<line x1="1000.2" y1="636" x2="988.4" y2="636" stroke="#000000" stroke-width="1.8" />
<line x1="125" y1="902.25" x2="130.8" y2="902.25" stroke="#000000" stroke-width="1.4" />
<line x1="1000.2" y1="902.25" x2="994.4" y2="902.25" stroke="#000000" stroke-width="1.4" />
<line x1="125" y1="724.75" x2="130.8" y2="724.75" stroke="#000000" stroke-width="1.4" />
<line x1="1000.2" y1="724.75" x2="994.4" y2="724.75" stroke="#000000" stroke-width="1.4" />
<rect x="125" y="548" width="875.2" height="531" fill="none" stroke="#000000" stroke-width="2"/>
<line x1="154.26" y1="1610.6" x2="154.26" y2="1598.6" stroke="#000000" stroke-width="1.8" />
<line x1="301.84" y1="1610.6" x2="301.84" y2="1598.6" stroke="#000000" stroke-width="1.8" />
<line x1="449.42" y1="1610.6" x2="449.42" y2="1598.6" stroke="#000000" stroke-width="1.8" />
<line x1="597" y1="1610.6" x2="597" y2="1598.6" stroke="#000000" stroke-width="1.8" />
<line x1="744.58" y1="1610.6" x2="744.58" y2="1598.6" stroke="#000000" stroke-width="1.8" />
<line x1="892.16" y1="1610.6" x2="892.16" y2="1598.6" stroke="#000000" stroke-width="1.8" />
<line x1="183.77" y1="1610.6" x2="183.77" y2="1604.1" stroke="#000000" stroke-width="1.4" />
<line x1="213.29" y1="1610.6" x2="213.29" y2="1604.1" stroke="#000000" stroke-width="1.4" />
<line x1="242.81" y1="1610.6" x2="242.81" y2="1604.1" stroke="#000000" stroke-width="1.4" />
<line x1="272.32" y1="1610.6" x2="272.32" y2="1604.1" stroke="#000000" stroke-width="1.4" />
<line x1="331.36" y1="1610.6" x2="331.36" y2="1604.1" stroke="#000000" stroke-width="1.4" />
<line x1="360.87" y1="1610.6" x2="360.87" y2="1604.1" stroke="#000000" stroke-width="1.4" />
<line x1="390.39" y1="1610.6" x2="390.39" y2="1604.1" stroke="#000000" stroke-width="1.4" />
<line x1="419.9" y1="1610.6" x2="419.9" y2="1604.1" stroke="#000000" stroke-width="1.4" />
<line x1="478.94" y1="1610.6" x2="478.94" y2="1604.1" stroke="#000000" stroke-width="1.4" />
<line x1="508.45" y1="1610.6" x2="508.45" y2="1604.1" stroke="#000000" stroke-width="1.4" />
<line x1="537.97" y1="1610.6" x2="537.97" y2="1604.1" stroke="#000000" stroke-width="1.4" />
<line x1="567.48" y1="1610.6" x2="567.48" y2="1604.1" stroke="#000000" stroke-width="1.4" />
<line x1="626.52" y1="1610.6" x2="626.52" y2="1604.1" stroke="#000000" stroke-width="1.4" />
<line x1="656.03" y1="1610.6" x2="656.03" y2="1604.1" stroke="#000000" stroke-width="1.4" />
<line x1="685.55" y1="1610.6" x2="685.55" y2="1604.1" stroke="#000000" stroke-width="1.4" />
<line x1="715.06" y1="1610.6" x2="715.06" y2="1604.1" stroke="#000000" stroke-width="1.4" />
<line x1="774.1" y1="1610.6" x2="774.1" y2="1604.1" stroke="#000000" stroke-width="1.4" />
<line x1="803.61" y1="1610.6" x2="803.61" y2="1604.1" stroke="#000000" stroke-width="1.4" />
<line x1="833.13" y1="1610.6" x2="833.13" y2="1604.1" stroke="#000000" stroke-width="1.4" />
<line x1="862.64" y1="1610.6" x2="862.64" y2="1604.1" stroke="#000000" stroke-width="1.4" />
<line x1="921.68" y1="1610.6" x2="921.68" y2="1604.1" stroke="#000000" stroke-width="1.4" />
<line x1="951.19" y1="1610.6" x2="951.19" y2="1604.1" stroke="#000000" stroke-width="1.4" />
<line x1="980.71" y1="1610.6" x2="980.71" y2="1604.1" stroke="#000000" stroke-width="1.4" />
<line x1="125" y1="1414.7" x2="136.6" y2="1414.7" stroke="#000000" stroke-width="1.8" />
<line x1="1000.2" y1="1414.7" x2="988.6" y2="1414.7" stroke="#000000" stroke-width="1.8" />
<line x1="125" y1="1155.6" x2="136.6" y2="1155.6" stroke="#000000" stroke-width="1.8" />
<line x1="1000.2" y1="1155.6" x2="988.6" y2="1155.6" stroke="#000000" stroke-width="1.8" />
<line x1="125" y1="1595.8" x2="132" y2="1595.8" stroke="#000000" stroke-width="1.4" />
<line x1="1000.2" y1="1595.8" x2="993.2" y2="1595.8" stroke="#000000" stroke-width="1.4" />
<line x1="125" y1="1550.18" x2="132" y2="1550.18" stroke="#000000" stroke-width="1.4" />
<line x1="1000.2" y1="1550.18" x2="993.2" y2="1550.18" stroke="#000000" stroke-width="1.4" />
<line x1="125" y1="1517.81" x2="132" y2="1517.81" stroke="#000000" stroke-width="1.4" />
<line x1="1000.2" y1="1517.81" x2="993.2" y2="1517.81" stroke="#000000" stroke-width="1.4" />
<line x1="125" y1="1492.7" x2="132" y2="1492.7" stroke="#000000" stroke-width="1.4" />
<line x1="1000.2" y1="1492.7" x2="993.2" y2="1492.7" stroke="#000000" stroke-width="1.4" />
<line x1="125" y1="1472.18" x2="132" y2="1472.18" stroke="#000000" stroke-width="1.4" />
<line x1="1000.2" y1="1472.18" x2="993.2" y2="1472.18" stroke="#000000" stroke-width="1.4" />
<line x1="125" y1="1454.84" x2="132" y2="1454.84" stroke="#000000" stroke-width="1.4" />
<line x1="1000.2" y1="1454.84" x2="993.2" y2="1454.84" stroke="#000000" stroke-width="1.4" />
<line x1="125" y1="1439.81" x2="132" y2="1439.81" stroke="#000000" stroke-width="1.4" />
<line x1="1000.2" y1="1439.81" x2="993.2" y2="1439.81" stroke="#000000" stroke-width="1.4" />
<line x1="125" y1="1426.56" x2="132" y2="1426.56" stroke="#000000" stroke-width="1.4" />
<line x1="1000.2" y1="1426.56" x2="993.2" y2="1426.56" stroke="#000000" stroke-width="1.4" />
<line x1="125" y1="1336.7" x2="132" y2="1336.7" stroke="#000000" stroke-width="1.4" />
<line x1="1000.2" y1="1336.7" x2="993.2" y2="1336.7" stroke="#000000" stroke-width="1.4" />
<line x1="125" y1="1291.08" x2="132" y2="1291.08" stroke="#000000" stroke-width="1.4" />
<line x1="1000.2" y1="1291.08" x2="993.2" y2="1291.08" stroke="#000000" stroke-width="1.4" />
<line x1="125" y1="1258.71" x2="132" y2="1258.71" stroke="#000000" stroke-width="1.4" />
<line x1="1000.2" y1="1258.71" x2="993.2" y2="1258.71" stroke="#000000" stroke-width="1.4" />
<line x1="125" y1="1233.6" x2="132" y2="1233.6" stroke="#000000" stroke-width="1.4" />
<line x1="1000.2" y1="1233.6" x2="993.2" y2="1233.6" stroke="#000000" stroke-width="1.4" />
<line x1="125" y1="1213.08" x2="132" y2="1213.08" stroke="#000000" stroke-width="1.4" />
<line x1="1000.2" y1="1213.08" x2="993.2" y2="1213.08" stroke="#000000" stroke-width="1.4" />
<line x1="125" y1="1195.74" x2="132" y2="1195.74" stroke="#000000" stroke-width="1.4" />
<line x1="1000.2" y1="1195.74" x2="993.2" y2="1195.74" stroke="#000000" stroke-width="1.4" />
<line x1="125" y1="1180.71" x2="132" y2="1180.71" stroke="#000000" stroke-width="1.4" />
<line x1="1000.2" y1="1180.71" x2="993.2" y2="1180.71" stroke="#000000" stroke-width="1.4" />
<line x1="125" y1="1167.46" x2="132" y2="1167.46" stroke="#000000" stroke-width="1.4" />
<line x1="1000.2" y1="1167.46" x2="993.2" y2="1167.46" stroke="#000000" stroke-width="1.4" />
<rect x="125" y="1079" width="875.2" height="531.6" fill="none" stroke="#000000" stroke-width="2"/>
<text x="154.26" y="1648.8" font-size="39" text-anchor="middle" fill="#000" font-family='"Liberation Sans", sans-serif' textLength="105.5" lengthAdjust="spacingAndGlyphs" >−450</text>
<text x="301.84" y="1648.8" font-size="39" text-anchor="middle" fill="#000" font-family='"Liberation Sans", sans-serif' textLength="105.5" lengthAdjust="spacingAndGlyphs" >−300</text>
<text x="449.42" y="1648.8" font-size="39" text-anchor="middle" fill="#000" font-family='"Liberation Sans", sans-serif' textLength="105.5" lengthAdjust="spacingAndGlyphs" >−150</text>
<text x="597" y="1648.8" font-size="39" text-anchor="middle" fill="#000" font-family='"Liberation Sans", sans-serif' textLength="26.5" lengthAdjust="spacingAndGlyphs" >0</text>
<text x="744.58" y="1648.8" font-size="39" text-anchor="middle" fill="#000" font-family='"Liberation Sans", sans-serif' textLength="71.5" lengthAdjust="spacingAndGlyphs" >150</text>
<text x="892.16" y="1648.8" font-size="39" text-anchor="middle" fill="#000" font-family='"Liberation Sans", sans-serif' textLength="71.5" lengthAdjust="spacingAndGlyphs" >300</text>
<text x="115.4" y="29.4" font-size="39" text-anchor="end" fill="#000" font-family='"Liberation Sans", sans-serif' textLength="61.5" lengthAdjust="spacingAndGlyphs" >1.5</text>
<text x="115.4" y="207.73" font-size="39" text-anchor="end" fill="#000" font-family='"Liberation Sans", sans-serif' textLength="61.5" lengthAdjust="spacingAndGlyphs" >1.0</text>
<text x="115.4" y="384.06" font-size="39" text-anchor="end" fill="#000" font-family='"Liberation Sans", sans-serif' textLength="61.5" lengthAdjust="spacingAndGlyphs" >0.5</text>
<text x="115.4" y="562.4" font-size="39" text-anchor="end" fill="#000" font-family='"Liberation Sans", sans-serif' textLength="61.5" lengthAdjust="spacingAndGlyphs" >0.0</text>
<text x="115.4" y="650.6" font-size="39" text-anchor="end" fill="#000" font-family='"Liberation Sans", sans-serif' textLength="61.5" lengthAdjust="spacingAndGlyphs" >3.0</text>
<text x="115.4" y="829.1" font-size="39" text-anchor="end" fill="#000" font-family='"Liberation Sans", sans-serif' textLength="61.5" lengthAdjust="spacingAndGlyphs" >2.0</text>
<text x="115.4" y="1005.6" font-size="39" text-anchor="end" fill="#000" font-family='"Liberation Sans", sans-serif' textLength="61.5" lengthAdjust="spacingAndGlyphs" >1.0</text>
<text x="48.8" y="1172" font-size="39" text-anchor="start" fill="#000" font-family='"Liberation Sans", sans-serif' textLength="47.8" lengthAdjust="spacingAndGlyphs" >10</text>
<text x="98.6" y="1158.8" font-size="27" text-anchor="start" fill="#000" font-family='"Liberation Sans", sans-serif' textLength="16.8" lengthAdjust="spacingAndGlyphs" >2</text>
<text x="48.8" y="1431.1" font-size="39" text-anchor="start" fill="#000" font-family='"Liberation Sans", sans-serif' textLength="47.8" lengthAdjust="spacingAndGlyphs" >10</text>
<text x="98.6" y="1417.9" font-size="27" text-anchor="start" fill="#000" font-family='"Liberation Sans", sans-serif' textLength="16.8" lengthAdjust="spacingAndGlyphs" >1</text>
<text x="560.8" y="1692.2" font-size="39.5" text-anchor="middle" fill="#000" font-family='"Liberation Sans", sans-serif' textLength="216.5" lengthAdjust="spacingAndGlyphs" >MJD-58000</text>
<text transform="translate(39.6,282.6) rotate(-90)" x="0" y="0" font-size="28.6" text-anchor="middle" fill="#000" font-family='"Liberation Sans", sans-serif' textLength="368.5" lengthAdjust="spacingAndGlyphs">Distance to the core (mas)</text>
<text transform="translate(31.5,1347.1) rotate(-90)" x="0" y="0" font-size="33.8" text-anchor="middle" fill="#000" font-family='"Liberation Sans", sans-serif' textLength="147.5" lengthAdjust="spacingAndGlyphs">Flux (mJy)</text>
<g transform="translate(29.5,980.5) rotate(-90)" font-family='"Liberation Sans", sans-serif' fill="#000">
<text x="0" y="0" font-size="34" textLength="18" lengthAdjust="spacingAndGlyphs">F</text>
<text x="17" y="5.5" font-size="22.5" textLength="115" lengthAdjust="spacingAndGlyphs">(2 − 10keV)</text>
<text x="131.5" y="0" font-size="34" textLength="57" lengthAdjust="spacingAndGlyphs">(10</text>
<text x="188.5" y="-12.5" font-size="22.5" textLength="39" lengthAdjust="spacingAndGlyphs">−11</text>
<text x="228" y="0" font-size="34" textLength="102" lengthAdjust="spacingAndGlyphs">ergs/s)</text>
</g>
</g>
</svg></body></html>
